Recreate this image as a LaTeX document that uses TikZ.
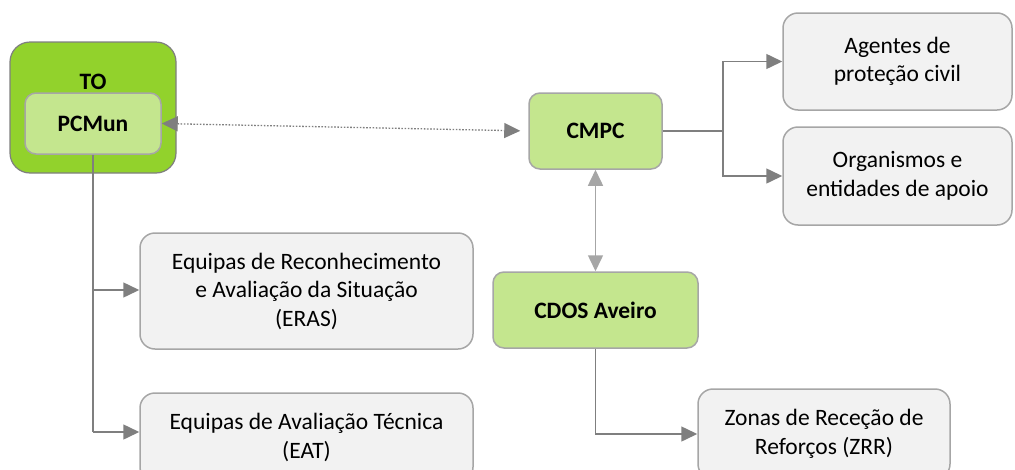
\documentclass[tikz,border=0pt]{standalone}
\usepackage{fontspec}
\setmainfont{Carlito}
\usetikzlibrary{arrows.meta}
\definecolor{greenA}{RGB}{146,210,44}
\definecolor{greenB}{RGB}{196,230,142}
\definecolor{boxgray}{RGB}{242,242,242}
\definecolor{edgegray}{RGB}{166,166,166}
\definecolor{linegray}{RGB}{127,127,127}
\begin{document}
\begin{tikzpicture}[x=1pt,y=-1pt,
  graybox/.style={draw=edgegray, line width=1.5pt, fill=boxgray, rounded corners=15pt, align=center, font=\fontsize{23.5}{28.5}\selectfont, inner sep=0pt},
  greenbox/.style={draw=edgegray, line width=1.5pt, fill=greenB, rounded corners=11pt, align=center, font=\fontsize{23.5}{28}\selectfont\bfseries, inner sep=0pt},
  conn/.style={draw=linegray, line width=1.5pt},
  tipe/.style={-{Triangle[length=16pt,width=15pt]}},
  tipb/.style={{Triangle[length=16pt,width=15pt]}-{Triangle[length=16pt,width=15pt]}}
]
\useasboundingbox (0,0) rectangle (1015,469);
\clip (0,0) rectangle (1015,469);
% TO outer box
\node[draw=linegray, line width=1.2pt, fill=greenA, rounded corners=20pt, minimum width=166pt, minimum height=131pt, inner sep=0pt] (to) at (93,107.5) {};
\node[font=\fontsize{23.5}{28}\selectfont\bfseries] (tolabel) at (93,82) {TO};
\node[greenbox, minimum width=136pt, minimum height=61pt] (pcmun) at (93,123.5) {\raisebox{-6pt}{PCMun}};
% green boxes
\node[greenbox, minimum width=133pt, minimum height=76pt] (cmpc) at (595.5,131) {CMPC};
\node[greenbox, minimum width=205pt, minimum height=76pt] (cdos) at (595.5,310) {CDOS Aveiro};
% gray boxes
\node[graybox, minimum width=229pt, minimum height=97pt] (agentes) at (897.5,61.5) {Agentes de\\proteção civil};
\node[graybox, minimum width=229pt, minimum height=98pt] (org) at (897.5,176) {Organismos e\\entidades de apoio};
\node[graybox, minimum width=333pt, minimum height=116pt] (eras) at (306.5,291) {Equipas de Reconhecimento\\e Avaliação da Situação\\(ERAS)};
\node[graybox, minimum width=333pt, minimum height=89pt] (eat) at (306.5,437.5) {Equipas de Avaliação Técnica\\(EAT)};
\node[graybox, minimum width=252pt, minimum height=90pt] (zrr) at (824,434) {Zonas de Receção de\\Reforços (ZRR)};
% connectors
\draw[conn, line width=1.3pt, dash pattern=on 1.6pt off 1.6pt, tipb, shorten >=8pt] (pcmun.east) -- (cmpc.west);
\coordinate (j1) at (723,131);
\draw[conn] (cmpc.east) -- (j1);
\draw[conn, tipe] (j1) |- (agentes.west);
\draw[conn, tipe] (j1) |- (org.west);
\draw[draw=edgegray, line width=1.5pt, tipb] (cmpc.south) -- (cdos.north);
\coordinate (b1) at (93,290);
\coordinate (b2) at (93,432);
\draw[conn] (pcmun.south) -- (b2);
\draw[conn, tipe] (b1) -- (b1 -| eras.west);
\draw[conn, tipe] (b2) -- (b2 -| eat.west);
\draw[conn, tipe] (cdos.south) |- (zrr.west);
\end{tikzpicture}
\end{document}
